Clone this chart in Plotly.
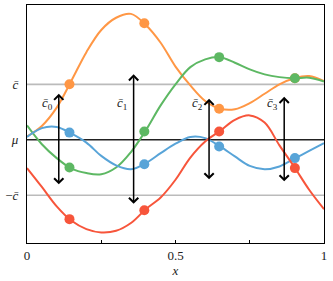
import plotly.graph_objects as go

# ---- data ----
sample_x = [0.0, 0.05, 0.10, 0.15, 0.20, 0.25, 0.30, 0.35, 0.40, 0.45, 0.50,
            0.55, 0.60, 0.65, 0.70, 0.75, 0.80, 0.85, 0.90, 0.95, 1.0]
orange_y = [0.06, 0.25, 0.58, 1.07, 1.58, 1.98, 2.20, 2.27, 2.07, 1.75, 1.32,
            0.98, 0.70, 0.56, 0.55, 0.66, 0.83, 1.00, 1.11, 1.15, 1.06]
green_y = [0.26, -0.08, -0.33, -0.52, -0.60, -0.62, -0.50, -0.22, 0.17, 0.62, 1.00,
           1.31, 1.45, 1.49, 1.39, 1.27, 1.18, 1.13, 1.11, 1.12, 1.05]
blue_y = [0.05, 0.21, 0.23, 0.11, -0.05, -0.29, -0.46, -0.53, -0.42, -0.24, -0.07,
          0.05, 0.03, -0.12, -0.30, -0.47, -0.53, -0.48, -0.34, -0.20, -0.06]
red_y = [-0.51, -0.85, -1.20, -1.46, -1.61, -1.67, -1.64, -1.50, -1.25, -1.04, -0.72,
         -0.32, -0.03, 0.16, 0.36, 0.44, 0.31, -0.10, -0.49, -0.90, -1.25]

point_x = [0.143, 0.395, 0.647, 0.902]
orange_pts = [1.0, 2.10, 0.56, 1.11]
green_pts = [-0.50, 0.15, 1.49, 1.11]
blue_pts = [0.13, -0.44, -0.12, -0.33]
red_pts = [-1.43, -1.27, 0.15, -0.51]

arrow_x = [0.107, 0.359, 0.613, 0.866]
arrow_half = [0.83, 1.18, 0.74, 0.775]
arrow_labels = ["<i>c̄</i><sub>0</sub>", "<i>c̄</i><sub>1</sub>",
                "<i>c̄</i><sub>2</sub>", "<i>c̄</i><sub>3</sub>"]

ytick_vals = [1, 0, -1]
ytick_text = ["<i>c̄</i>", "<i>μ</i>", "−<i>c̄</i>"]
xtick_vals = [0, 0.25, 0.5, 0.75, 1]
xtick_text = ["0", "", "0.5", "", "1"]

colors = {"orange": "#FF9745", "green": "#5DB863", "blue": "#58A4D8", "red": "#F7553B"}
FONT = "Liberation Serif"

fig = go.Figure()
for name, ys, pts in [("orange", orange_y, orange_pts),
                      ("green", green_y, green_pts),
                      ("blue", blue_y, blue_pts),
                      ("red", red_y, red_pts)]:
    fig.add_trace(go.Scatter(x=sample_x, y=ys, mode="lines",
                             line=dict(color=colors[name], width=2, shape="spline", smoothing=1.0),
                             showlegend=False, hoverinfo="skip"))
    fig.add_trace(go.Scatter(x=point_x, y=pts, mode="markers",
                             marker=dict(color=colors[name], size=10),
                             showlegend=False, hoverinfo="skip"))

# horizontal reference lines
for yv, col in [(1, "#BBBBBB"), (-1, "#BBBBBB"), (0, "#222222")]:
    fig.add_shape(type="line", xref="x", yref="y", x0=0, x1=1, y0=yv, y1=yv,
                  line=dict(color=col, width=1.6), layer="below")

for ax_x, h, lab in zip(arrow_x, arrow_half, arrow_labels):
    fig.add_annotation(x=ax_x, y=h, ax=ax_x, ay=-h, xref="x", yref="y", axref="x", ayref="y",
                       showarrow=True, arrowhead=4, arrowside="end+start", arrowsize=1.2,
                       arrowwidth=1.5, arrowcolor="black", text="")
    fig.add_annotation(x=ax_x - 0.038, y=0.65, xref="x", yref="y", text=lab, showarrow=False,
                       font=dict(family=FONT, size=13, color="#222"))

fig.update_xaxes(range=[0, 1], tickvals=xtick_vals, ticktext=xtick_text, ticks="inside",
                 ticklen=3, tickcolor="black", showline=True, mirror=True, linecolor="black",
                 linewidth=1.3, showgrid=False, zeroline=False, automargin=False,
                 tickfont=dict(family=FONT, size=13, color="#222"),
                 title=dict(text="<i>x</i>", font=dict(family=FONT, size=13, color="#222"),
                            standoff=0))
fig.update_yaxes(range=[-1.86, 2.43], tickvals=ytick_vals, ticktext=ytick_text, ticks="",
                 showline=True, mirror=True, linecolor="black", linewidth=1.3, showgrid=False,
                 zeroline=False, automargin=False, ticklabelstandoff=5,
                 tickfont=dict(family=FONT, size=13, color="#222"))
fig.update_layout(width=333, height=281, margin=dict(l=27, r=9, t=5, b=38),
                  plot_bgcolor="white", paper_bgcolor="white")
fig.write_html("out.html", config={"displayModeBar": False},
               post_script="document.body.style.margin='0';document.body.style.overflow='hidden';")
